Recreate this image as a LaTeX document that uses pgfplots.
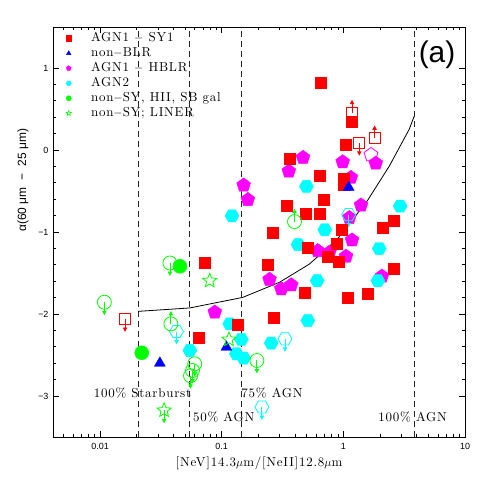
\documentclass[border=0pt]{standalone}
\usepackage{fontspec}
\setsansfont{Liberation Sans}
\newfontfamily\hershey{lmroman10-regular.otf}[LetterSpace=6]
\usepackage{pgfplots}
\pgfplotsset{compat=1.18}

% custom marks: hexagon, open star, and upper/lower limit arrows
\newcommand{\hexpath}{%
  \pgfpathmoveto{\pgfqpoint{\pgfplotmarksize}{0pt}}%
  \pgfpathlineto{\pgfqpoint{0.5\pgfplotmarksize}{0.866\pgfplotmarksize}}%
  \pgfpathlineto{\pgfqpoint{-0.5\pgfplotmarksize}{0.866\pgfplotmarksize}}%
  \pgfpathlineto{\pgfqpoint{-\pgfplotmarksize}{0pt}}%
  \pgfpathlineto{\pgfqpoint{-0.5\pgfplotmarksize}{-0.866\pgfplotmarksize}}%
  \pgfpathlineto{\pgfqpoint{0.5\pgfplotmarksize}{-0.866\pgfplotmarksize}}%
  \pgfpathclose}
\newcommand{\starpath}{%
  \pgfpathmoveto{\pgfqpointpolar{90}{\pgfplotmarksize}}%
  \pgfpathlineto{\pgfqpointpolar{126}{0.45\pgfplotmarksize}}%
  \pgfpathlineto{\pgfqpointpolar{162}{\pgfplotmarksize}}%
  \pgfpathlineto{\pgfqpointpolar{198}{0.45\pgfplotmarksize}}%
  \pgfpathlineto{\pgfqpointpolar{234}{\pgfplotmarksize}}%
  \pgfpathlineto{\pgfqpointpolar{270}{0.45\pgfplotmarksize}}%
  \pgfpathlineto{\pgfqpointpolar{306}{\pgfplotmarksize}}%
  \pgfpathlineto{\pgfqpointpolar{342}{0.45\pgfplotmarksize}}%
  \pgfpathlineto{\pgfqpointpolar{18}{\pgfplotmarksize}}%
  \pgfpathlineto{\pgfqpointpolar{54}{0.45\pgfplotmarksize}}%
  \pgfpathclose}
\newcommand{\sqpath}{%
  \pgfpathrectangle{\pgfqpoint{-\pgfplotmarksize}{-\pgfplotmarksize}}%
    {\pgfqpoint{2\pgfplotmarksize}{2\pgfplotmarksize}}}
\newcommand{\arrowdown}{%
  \pgfpathmoveto{\pgfqpoint{0pt}{0pt}}%
  \pgfpathlineto{\pgfqpoint{0pt}{-9.5bp}}%
  \pgfusepathqstroke
  \pgfpathmoveto{\pgfqpoint{0pt}{-12bp}}%
  \pgfpathlineto{\pgfqpoint{-1.6bp}{-9bp}}%
  \pgfpathlineto{\pgfqpoint{1.6bp}{-9bp}}%
  \pgfpathclose\pgfusepathqfillstroke}
\newcommand{\arrowup}{%
  \pgfpathmoveto{\pgfqpoint{0pt}{0pt}}%
  \pgfpathlineto{\pgfqpoint{0pt}{9.5bp}}%
  \pgfusepathqstroke
  \pgfpathmoveto{\pgfqpoint{0pt}{12bp}}%
  \pgfpathlineto{\pgfqpoint{-1.6bp}{9bp}}%
  \pgfpathlineto{\pgfqpoint{1.6bp}{9bp}}%
  \pgfpathclose\pgfusepathqfillstroke}
\pgfdeclareplotmark{hexagon*}{\hexpath\pgfusepathqfillstroke}
\pgfdeclareplotmark{hexdown}{\hexpath\pgfusepathqstroke\arrowdown}
\pgfdeclareplotmark{ostar}{\starpath\pgfusepathqstroke}
\pgfdeclareplotmark{stardown}{\starpath\pgfusepathqstroke\arrowdown}
\pgfdeclareplotmark{sqdown}{\sqpath\pgfusepathqstroke\arrowdown}
\pgfdeclareplotmark{squp}{\sqpath\pgfusepathqstroke\arrowup}
\pgfdeclareplotmark{circdown}{\pgfpathcircle{\pgfpointorigin}{\pgfplotmarksize}\pgfusepathqstroke\arrowdown}
\pgfdeclareplotmark{circup}{\pgfpathcircle{\pgfpointorigin}{\pgfplotmarksize}\pgfusepathqstroke\arrowup}

\definecolor{sred}{RGB}{255,0,0}
\definecolor{sblue}{RGB}{0,0,255}
\definecolor{smag}{RGB}{255,0,255}
\definecolor{scyan}{RGB}{0,255,255}
\definecolor{sgreen}{RGB}{0,255,0}

\newcommand{\lbl}{\hershey\fontsize{13}{14}\selectfont}

\begin{document}
\begin{tikzpicture}
\path[use as bounding box] (-53bp,-54bp) rectangle (438bp,437bp);
\begin{axis}[
    at={(0,0)}, anchor=south west,
    scale only axis, width=412bp, height=410bp,
    xmode=log, xmin=0.0041, xmax=10, ymin=-3.5, ymax=1.5,
    xtick={0.01,0.1,1,10},
    xticklabels={\textsf{0.01},\textsf{0.1},\textsf{1},\textsf{10}},
    minor xtick={0.005,0.006,0.007,0.008,0.009,
                 0.02,0.03,0.04,0.05,0.06,0.07,0.08,0.09,
                 0.2,0.3,0.4,0.5,0.6,0.7,0.8,0.9,
                 2,3,4,5,6,7,8,9},
    ytick={-3,-2,-1,0,1},
    yticklabels={\textsf{−3},\textsf{−2},\textsf{−1},\textsf{0},\textsf{1}},
    minor y tick num=4,
    tick pos=both, tick align=inside,
    major tick length=6bp, minor tick length=3bp,
    every tick/.style={black, line width=0.6bp},
    axis line style={line width=0.8bp},
    tick label style={font=\sffamily\fontsize{9}{10}\selectfont},
    xticklabel style={yshift=-3bp},
    yticklabel style={xshift=-1bp},
    xlabel={[NeV]14.3$\mu$m/[NeII]12.8$\mu$m},
    xlabel style={at={(axis description cs:0.5,-0.0634)}, anchor=center, font=\lbl},
    ylabel={\textsf{α(60 μm\hspace{7bp}−\hspace{7bp}25 μm)}},
    ylabel style={at={(axis description cs:-0.0728,0.626)}, anchor=center, font=\sffamily\fontsize{12}{14}\selectfont},
    clip=false,
    legend style={at={(axis description cs:0.02,0.99)}, anchor=north west,
      draw=none, fill=none, inner sep=0pt, row sep=1bp, font=\lbl,
      nodes={inner sep=1bp, text height=9bp, text depth=3bp}},
    legend cell align=left,
    legend image code/.code={%
      \path (0bp,0bp) (28bp,0bp);
      \draw[#1, mark size=2.6bp] plot coordinates {(7bp,0bp)};},
]
% legend entries
\addlegendimage{only marks, mark=square*, sred}
\addlegendentry{AGN1 $-$ SY1}
\addlegendimage{only marks, mark=triangle*, sblue}
\addlegendentry{non$-$BLR}
\addlegendimage{only marks, mark=pentagon*, smag}
\addlegendentry{AGN1 $-$ HBLR}
\addlegendimage{only marks, mark=hexagon*, scyan}
\addlegendentry{AGN2}
\addlegendimage{only marks, mark=*, sgreen}
\addlegendentry{non$-$SY, HII, SB gal}
\addlegendimage{only marks, mark=ostar, sgreen, line width=0.6bp}
\addlegendentry{non$-$SY; LINER}

% mixing lines
\addplot[forget plot, black!85, line width=0.8bp, dash pattern=on 6bp off 4bp] coordinates {(0.0205,-3.5) (0.0205,1.5)};
\addplot[forget plot, black!85, line width=0.8bp, dash pattern=on 6bp off 4bp] coordinates {(0.0547,-3.5) (0.0547,1.5)};
\addplot[forget plot, black!85, line width=0.8bp, dash pattern=on 6bp off 4bp] coordinates {(0.146,-3.5) (0.146,1.5)};
\addplot[forget plot, black!85, line width=0.8bp, dash pattern=on 6bp off 4bp] coordinates {(3.82,-3.5) (3.82,1.5)};
\addplot[forget plot, black, line width=0.8bp] coordinates {
  (0.0205,-1.968) (0.0547,-1.926) (0.1486,-1.798) (0.2988,-1.613)
  (0.526,-1.391) (0.893,-1.086) (1.573,-0.620) (2.383,-0.198)
  (3.476,0.252) (3.82,0.410)};

% AGN1 - HBLR
\addplot[forget plot, only marks, mark=pentagon*, smag, mark size=7.3bp] coordinates {
  (0.466,-0.092) (0.356,-0.259) (0.987,-0.146) (1.846,-0.162) (1.152,-0.336)
  (1.397,-0.673) (0.1514,-0.429) (0.164,-0.606) (1.12,-0.825) (1.178,-1.099)
  (0.616,-1.229) (0.768,-1.248) (1.052,-1.297) (0.247,-1.579) (0.309,-1.695)
  (0.373,-1.646) (2.076,-1.540) (0.0877,-1.978)};
\addplot[forget plot, only marks, mark=pentagon, smag, mark size=7.3bp, line width=0.8bp] coordinates {
  (1.686,-0.058)};

% AGN2
\addplot[forget plot, only marks, mark=hexagon*, scyan, mark size=7bp] coordinates {
  (0.497,-0.445) (2.93,-0.685) (0.703,-0.973) (0.424,-1.153) (1.973,-1.202)
  (0.1215,-0.803) (0.609,-1.594) (1.924,-1.594) (0.510,-2.080) (0.255,-2.354)
  (0.145,-2.309) (0.1163,-2.120) (0.0547,-2.445) (0.132,-2.485) (0.1514,-2.538)};
\addplot[forget plot, only marks, mark=hexdown, scyan, mark size=7bp, line width=0.8bp] coordinates {
  (1.105,-0.788) (0.331,-2.303) (0.0425,-2.214) (0.2139,-3.134)};

% AGN1 - SY1
\addplot[forget plot, only marks, mark=square*, sred, mark size=5.5bp] coordinates {
  (0.648,0.820) (1.178,0.341) (1.052,0.069) (0.361,-0.105) (0.636,-0.316)
  (1.0,-0.348) (1.0,-0.429) (0.686,-0.612) (0.339,-0.685) (0.488,-0.774)
  (0.642,-0.774) (2.584,-0.864) (2.10,-0.944) (0.263,-1.013) (0.976,-0.973)
  (0.510,-1.196) (0.885,-1.144) (0.739,-1.305) (0.910,-1.358) (0.240,-1.403)
  (0.0730,-1.378) (0.479,-1.735) (1.093,-1.796) (1.594,-1.755) (2.584,-1.443)
  (0.268,-2.044) (0.1345,-2.133) (0.0652,-2.294)};
\addplot[forget plot, only marks, mark=squp, sred, mark size=5.5bp, line width=0.8bp] coordinates {
  (1.178,0.455) (1.806,0.142)};
\addplot[forget plot, only marks, mark=sqdown, sred, mark size=5.5bp, line width=0.8bp] coordinates {
  (1.352,0.088) (0.01603,-2.06)};

% non-BLR
\addplot[forget plot, only marks, mark=triangle*, sblue, mark size=6.3bp] coordinates {
  (1.105,-0.454) (0.1093,-2.404) (0.0310,-2.599)};

% non-SY, HII, SB gal
\addplot[forget plot, only marks, mark=*, sgreen, mark size=7bp] coordinates {
  (0.0453,-1.418) (0.0220,-2.473)};
\addplot[forget plot, only marks, mark=circdown, sgreen, mark size=7bp, line width=0.8bp] coordinates {
  (0.0375,-1.378) (0.01084,-1.856) (0.1946,-2.567) (0.060,-2.607)
  (0.0575,-2.689) (0.0554,-2.753)};
\addplot[forget plot, only marks, mark=circup, sgreen, mark size=7bp, line width=0.8bp] coordinates {
  (0.0382,-2.120) (0.3967,-0.873)};

% non-SY; LINER
\addplot[forget plot, only marks, mark=ostar, sgreen, mark size=7.4bp, line width=0.8bp] coordinates {
  (0.0797,-1.594) (0.1148,-2.311)};
\addplot[forget plot, only marks, mark=stardown, sgreen, mark size=7.4bp, line width=0.8bp] coordinates {
  (0.0336,-3.175)};

\node[font=\lbl] at (axis cs:0.0223,-2.96) {100\% Starburst};
\node[font=\lbl] at (axis cs:0.2594,-2.96) {75\% AGN};
\node[font=\lbl] at (axis cs:0.1038,-3.252) {50\% AGN};
\node[font=\lbl] at (axis cs:3.71,-3.252) {100\% AGN};
\node[font=\sffamily\fontsize{30}{32}\selectfont] at (axis cs:5.89,1.164) {(a)};
\end{axis}
\end{tikzpicture}
\end{document}
